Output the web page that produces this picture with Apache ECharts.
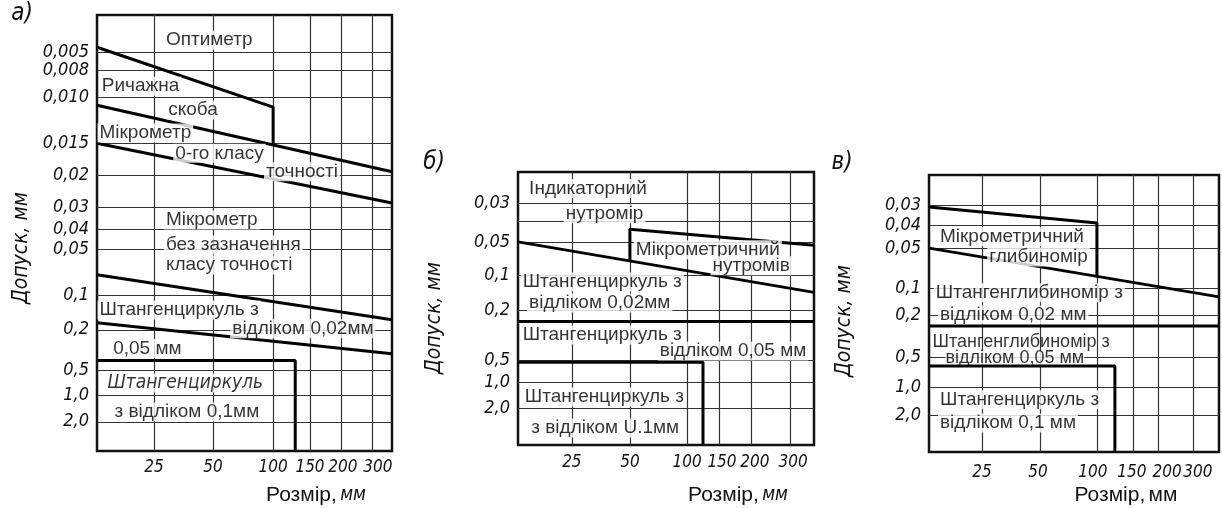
<!DOCTYPE html>
<html><head><meta charset="utf-8">
<script src="https://cdn.jsdelivr.net/npm/echarts@6/dist/echarts.min.js"></script>
<style>html,body{margin:0;padding:0;background:#fff}#c{width:1222px;height:508px}</style>
</head><body><div id="c"></div>
<script>
// ================= DATA =================
// x ticks (size, mm)
const xTickMm = [25, 50, 100, 150, 200, 300];
const xTickLabels = ['25', '50', '100', '150', '200', '300'];

// y ticks (tolerance, mm)
const yTickA = [0.005, 0.008, 0.010, 0.015, 0.02, 0.03, 0.04, 0.05, 0.1, 0.2, 0.5, 1.0, 2.0];
const yLabelsA = ['0,005', '0,008', '0,010', '0,015', '0,02', '0,03', '0,04', '0,05', '0,1', '0,2', '0,5', '1,0', '2,0'];
const yTickBV = [0.03, 0.04, 0.05, 0.1, 0.2, 0.5, 1.0, 2.0];
const yLabelsBV = ['0,03', '0,04', '0,05', '0,1', '0,2', '0,5', '1,0', '2,0'];

// Panel а) boundaries [size mm, tolerance mm]
const aOptimeter   = [[0, 0.0042], [100, 0.0111], [100, 0.0152]];
const aLeverClamp  = [[0, 0.0109], [400, 0.0195]];
const aMicrometer0 = [[0, 0.015], [400, 0.0288]];
const aMicrometer  = [[0, 0.078], [400, 0.171]];
const aCaliper002  = [[0, 0.18], [400, 0.38]];
const aCaliper01   = [[0, 0.43], [130, 0.43], [130, 3.0]];

// Panel б)
const bCaliper002  = [[0, 0.05], [400, 0.15]];
const bBoreGauge   = [[50, 0.08], [50, 0.044], [400, 0.055]];
const bCaliper005  = [[0, 0.27], [400, 0.27]];
const bCaliper01   = [[0, 0.55], [125, 0.55], [125, 3.0]];

// Panel в)
const vDepthMicro  = [[0, 0.031], [100, 0.039], [100, 0.0855]];
const vDepth002    = [[0, 0.05], [400, 0.133]];
const vDepth005    = [[0, 0.28], [400, 0.28]];
const vCaliper01   = [[0, 0.65], [125, 0.65], [125, 3.0]];

// Annotations [size mm, tolerance mm, text]
const aNotes = [
  [29, 0.003, 'Оптиметр'], [1, 0.0092, 'Ричажна'], [30, 0.0114, 'скоба'],
  [0, 0.0139, 'Мікрометр'], [33, 0.0166, '0-го класу'], [92, 0.0195, 'точності'],
  [29, 0.0359, 'Мікрометр'], [29, 0.048, 'без зазначення'], [29, 0.0674, 'класу точності'],
  [0, 0.143, 'Штангенциркуль з'], [64, 0.197, 'відліком 0,02мм'], [6, 0.34, '0,05 мм'],
  [6.6, 1.63, 'з відліком 0,1мм']
];
const aNotesItalic = [[3.5, 0.76, 'Штангенциркуль']];
const bNotes = [
  [4, 0.0217, 'Індикаторний'], [21, 0.036, 'нутромір'], [53, 0.062, 'Мікрометричний'],
  [136, 0.086, 'нутромів'], [1, 0.12, 'Штангенциркуль з'], [4, 0.18, 'відліком 0,02мм'],
  [1, 0.35, 'Штангенциркуль з'], [74, 0.446, 'відліком 0,05 мм'],
  [2, 1.58, 'Штангенциркуль з'], [5, 2.54, 'з відліком U.1мм']
];
const vNotes = [
  [4, 0.045, 'Мікрометричний'], [27, 0.061, 'глибиномір'],
  [2, 0.118, 'Штангенглибиномір з'], [4, 0.2, 'відліком 0,02 мм'],
  [4, 1.46, 'Штангенциркуль з'], [4, 2.22, 'відліком 0,1 мм']
];
const vNotesTight = [
  [7.5, 0.525, 'відліком 0,05 мм'], [1.4, 0.395, 'Штангенглибиномір з']
];

// ============ nonuniform axis scales (breakpoints of the printed nomogram) ============
const scales = [
  { xv: [0, 25, 50, 100, 150, 200, 300, 400], xf: [0, 0.193, 0.393, 0.597, 0.722, 0.827, 0.932, 1],
    yv: [0.005, 0.008, 0.010, 0.015, 0.02, 0.03, 0.04, 0.05, 0.1, 0.2, 0.5, 1.0, 2.0, 3.0],
    yf: [0.085, 0.126, 0.188, 0.294, 0.367, 0.440, 0.491, 0.537, 0.642, 0.722, 0.814, 0.872, 0.933, 1] },
  { xv: [0, 25, 50, 100, 150, 200, 300, 400], xf: [0, 0.182, 0.378, 0.571, 0.679, 0.787, 0.919, 1],
    yv: [0.03, 0.04, 0.05, 0.1, 0.2, 0.5, 1.0, 2.0, 3.0],
    yf: [0.114, 0.179, 0.256, 0.377, 0.505, 0.689, 0.769, 0.864, 1] },
  { xv: [0, 25, 50, 100, 150, 200, 300, 400], xf: [0, 0.183, 0.383, 0.579, 0.703, 0.790, 0.910, 1],
    yv: [0.03, 0.04, 0.05, 0.1, 0.2, 0.5, 1.0, 2.0, 3.0],
    yf: [0.108, 0.181, 0.264, 0.408, 0.505, 0.657, 0.765, 0.866, 1] }
];
// small horizontal nudges of the printed x tick labels (px), per panel
const xLabelNudge = [[0, 0, 0, 0, 2, 6], [0, 0, 0, 3, 4, 3], [0, -2, -4, -1, 9, 5]];

function interp(vs, fs, v) {
  let i = 0;
  while (i < vs.length - 2 && v > vs[i + 1]) i++;
  return fs[i] + (v - vs[i]) * (fs[i + 1] - fs[i]) / (vs[i + 1] - vs[i]);
}
const fx = (g, v) => interp(scales[g].xv, scales[g].xf, v);
const fy = (g, v) => interp(scales[g].yv, scales[g].yf, v);

// ================= CHART =================
const TICK_FONT = "'DejaVu Sans Condensed', 'DejaVu Sans', sans-serif";
const TEXT_FONT = "'Liberation Sans', Arial, sans-serif";
const grids = [
  { left: 97, top: 15, width: 295, height: 436 },
  { left: 518, top: 172, width: 296, height: 273 },
  { left: 929, top: 175, width: 290, height: 277 }
];
const yTicks = [[yTickA, yLabelsA], [yTickBV, yLabelsBV], [yTickBV, yLabelsBV]];
const xMargins = [8, 9, 12];

function findIndex(vals, mapper, v) {
  for (let i = 0; i < vals.length; i++) if (Math.abs(mapper(vals[i]) - v) < 1e-7) return i;
  return -1;
}

const xAxes = grids.map((g, gi) => {
  const cv = xTickMm.map(m => fx(gi, m));
  const rich = {};
  xLabelNudge[gi].forEach((n, k) => {
    rich['n' + k] = { padding: n >= 0 ? [0, 0, 0, 2 * n] : [0, -2 * n, 0, 0] };
  });
  return {
    type: 'value', gridIndex: gi, min: 0, max: 1,
    axisLine: { show: false },
    axisTick: { show: false, customValues: cv },
    axisLabel: { customValues: cv, margin: xMargins[gi], color: '#111', fontSize: 17, fontStyle: 'italic',
      fontFamily: TICK_FONT, showMinLabel: true, showMaxLabel: true, hideOverlap: false, rich: rich,
      formatter: v => { const k = findIndex(xTickMm, m => fx(gi, m), v); return k < 0 ? '' : '{n' + k + '|' + xTickLabels[k] + '}'; } },
    splitLine: { show: true, lineStyle: { color: '#333', width: 1.2 } }
  };
});
const yAxes = grids.map((g, gi) => {
  const [vals, labels] = yTicks[gi];
  const cv = vals.map(t => fy(gi, t));
  return {
    type: 'value', gridIndex: gi, min: 0, max: 1, inverse: true,
    axisLine: { show: false },
    axisTick: { show: false, customValues: cv },
    axisLabel: { customValues: cv, margin: 8, color: '#111', fontSize: 18, fontStyle: 'italic',
      fontFamily: TICK_FONT, showMinLabel: true, showMaxLabel: true, hideOverlap: false,
      formatter: v => { const k = findIndex(vals, t => fy(gi, t), v); return k < 0 ? '' : labels[k]; } },
    splitLine: { show: true, lineStyle: { color: '#333', width: 1.2 } }
  };
});

function lineSeries(g, data, z) {
  return {
    type: 'line', xAxisIndex: g, yAxisIndex: g, symbol: 'none', silent: true, z: z || 5,
    lineStyle: { color: '#000', width: 3 },
    data: data.map(d => [fx(g, d[0]), fy(g, d[1])])
  };
}
function noteSeries(g, list, extra, z) {
  return {
    type: 'scatter', xAxisIndex: g, yAxisIndex: g, symbolSize: 1, silent: true, z: z || 10,
    itemStyle: { color: 'rgba(0,0,0,0)' },
    data: list.map(d => ({ value: [fx(g, d[0]), fy(g, d[1])], name: d[2] })),
    label: Object.assign({
      show: true, position: 'right', distance: 0, formatter: p => p.name,
      backgroundColor: '#fff', padding: [0, 2], color: '#000', fontSize: 19, fontFamily: TEXT_FONT
    }, extra || {})
  };
}

const series = [
  lineSeries(0, aOptimeter), lineSeries(0, aLeverClamp), lineSeries(0, aMicrometer0),
  lineSeries(0, aMicrometer), lineSeries(0, aCaliper002), lineSeries(0, aCaliper01),
  lineSeries(1, bCaliper002), lineSeries(1, bBoreGauge), lineSeries(1, bCaliper005), lineSeries(1, bCaliper01),
  lineSeries(2, vDepthMicro), lineSeries(2, vDepth002), lineSeries(2, vDepth005, 12), lineSeries(2, vCaliper01, 12),
  noteSeries(0, aNotes),
  noteSeries(0, aNotesItalic, { fontStyle: 'italic', fontFamily: TICK_FONT, fontSize: 19 }),
  noteSeries(1, bNotes), noteSeries(2, vNotes),
  noteSeries(2, vNotesTight.slice(0, 1), { fontSize: 18, padding: 0, lineHeight: 16 }, 10),
  noteSeries(2, vNotesTight.slice(1), { fontSize: 18, padding: 0, lineHeight: 16, backgroundColor: 'transparent' }, 11)
];

function yTitle(x, y) {
  return { type: 'text', x: x, y: y, rotation: Math.PI / 2, z: 20,
    style: { text: 'Допуск, мм', textAlign: 'center', textVerticalAlign: 'middle',
      font: "italic 21px 'DejaVu Sans Condensed', 'DejaVu Sans', sans-serif", fill: '#111' } };
}
function xTitle(x, y, italicUnit) {
  return { type: 'text', x: x, y: y, z: 20,
    style: { text: '{a|Розмір,} {' + (italicUnit ? 'b' : 'a') + '|мм}', textAlign: 'center', textVerticalAlign: 'middle',
      rich: {
        a: { fontFamily: TEXT_FONT, fontSize: 21, fill: '#111', color: '#111' },
        b: { fontFamily: TICK_FONT, fontStyle: 'italic', fontSize: 19, fill: '#111', color: '#111' }
      } } };
}
function letter(x, y, t) {
  return { type: 'text', x: x, y: y, z: 20,
    style: { text: t, textAlign: 'center', textVerticalAlign: 'middle',
      font: "italic 24px 'DejaVu Sans Condensed', 'DejaVu Sans', sans-serif", fill: '#111' } };
}

const option = {
  animation: false,
  backgroundColor: '#fff',
  grid: grids.map(g => Object.assign({ show: true, borderColor: '#111', borderWidth: 2.5, backgroundColor: 'transparent' }, g)),
  xAxis: xAxes,
  yAxis: yAxes,
  series: series,
  graphic: [
    yTitle(22, 248), yTitle(435, 318), yTitle(845, 321),
    xTitle(316, 495, true), xTitle(738, 495, true), xTitle(1126, 495, false),
    letter(22, 14, 'а)'), letter(434, 163, 'б)'), letter(842, 163, 'в)')
  ]
};
const chart = echarts.init(document.getElementById('c'), null, { renderer: 'canvas' });
chart.setOption(option);
</script></body></html>
